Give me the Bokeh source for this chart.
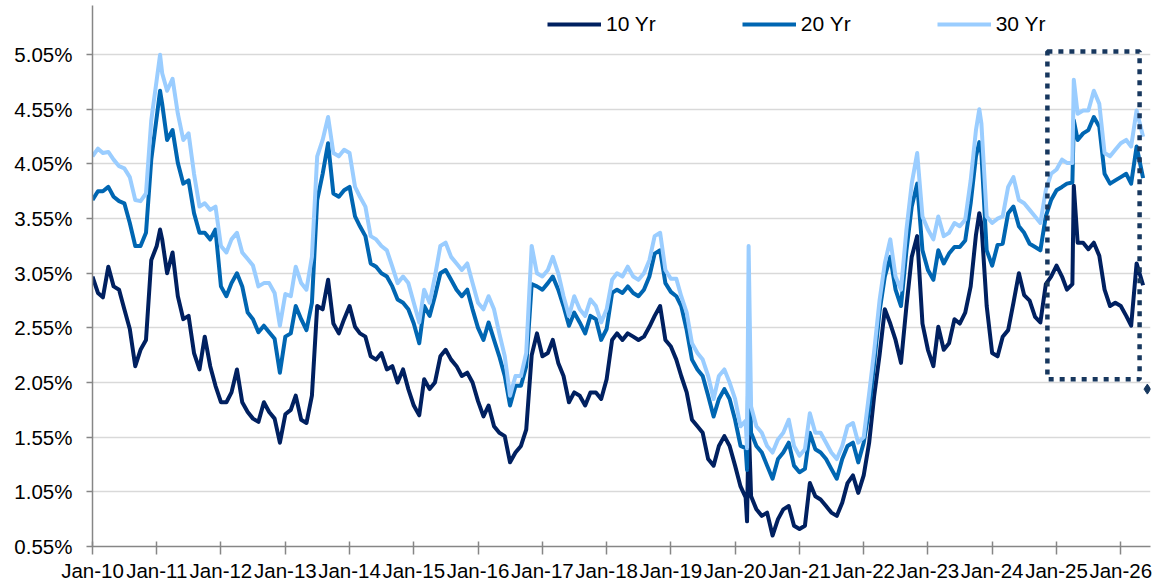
import pandas as pd
from bokeh.plotting import figure
from bokeh.models import (FixedTicker, PrintfTickFormatter, DatetimeTickFormatter, Legend,
                          LegendItem, BoxAnnotation, Range1d, ColumnDataSource)
from bokeh.embed import file_html
from bokeh.resources import INLINE

# ---------------- data (monthly readings, Jan-10 .. Apr-26) ----------------
MONTH_START = "2010-01-01"
MONTH_END = "2026-04-01"

Y10 = [
    3.02, 2.87, 2.83, 3.11, 2.93, 2.90, 2.72, 2.54, 2.20, 2.35, 2.44, 3.17,
    3.30, 3.36, 3.05, 3.24, 2.84, 2.63, 2.66, 2.32, 2.17, 2.47, 2.20, 2.02,
    1.87, 1.87, 1.96, 2.17, 1.87, 1.78, 1.72, 1.69, 1.87, 1.78, 1.72, 1.50,
    1.76, 1.80, 1.93, 1.71, 1.68, 1.93, 2.75, 2.72, 2.99, 2.59, 2.50, 2.63,
    2.75, 2.56, 2.50, 2.47, 2.29, 2.26, 2.32, 2.17, 2.20, 2.05, 2.17, 1.99,
    1.84, 1.75, 2.08, 1.99, 2.05, 2.29, 2.35, 2.26, 2.20, 2.11, 2.14, 2.05,
    1.88, 1.74, 1.84, 1.65, 1.59, 1.56, 1.32, 1.41, 1.47, 1.62, 2.30, 2.50,
    2.29, 2.32, 2.44, 2.23, 2.11, 1.87, 1.96, 1.93, 1.84, 1.96, 1.96, 1.90,
    2.08, 2.44, 2.50, 2.44, 2.50, 2.47, 2.44, 2.47, 2.56, 2.66, 2.75, 2.44,
    2.38, 2.26, 2.11, 1.96, 1.71, 1.65, 1.59, 1.35, 1.29, 1.47, 1.56, 1.47,
    1.29, 1.10, 1.00, 1.01, 0.89, 0.83, 0.86, 0.65, 0.80, 0.89, 0.92, 0.74,
    0.71, 0.74, 1.13, 1.01, 0.98, 0.92, 0.86, 0.83, 0.95, 1.13, 1.20, 1.04,
    1.20, 1.50, 1.92, 2.30, 2.72, 2.59, 2.44, 2.23, 2.75, 3.20, 3.39, 2.59,
    2.35, 2.20, 2.56, 2.35, 2.41, 2.63, 2.59, 2.69, 2.93, 3.40, 3.50, 2.75,
    2.32, 2.29, 2.47, 2.53, 2.78, 3.05, 2.85, 2.80, 2.65, 2.60, 2.95, 3.02,
    3.12, 3.02, 2.90, 2.95, 3.33, 3.33, 3.27, 3.33, 3.21, 2.90, 2.75, 2.78,
    2.75, 2.66, 2.57, 3.14,
]
Y20 = [
    3.72, 3.80, 3.80, 3.84, 3.75, 3.71, 3.69, 3.51, 3.30, 3.30, 3.42, 4.09,
    4.48, 4.60, 4.27, 4.36, 4.06, 3.87, 3.90, 3.60, 3.42, 3.42, 3.36, 3.45,
    2.93, 2.84, 2.96, 3.05, 2.93, 2.69, 2.63, 2.51, 2.57, 2.51, 2.45, 2.14,
    2.47, 2.50, 2.75, 2.63, 2.53, 2.78, 3.72, 3.96, 4.24, 3.78, 3.75, 3.81,
    3.84, 3.57, 3.48, 3.39, 3.14, 3.11, 3.05, 3.02, 2.93, 2.81, 2.78, 2.72,
    2.59, 2.41, 2.75, 2.66, 2.84, 3.05, 3.08, 2.99, 2.90, 2.84, 2.90, 2.72,
    2.55, 2.44, 2.60, 2.44, 2.29, 2.11, 1.84, 2.02, 2.02, 2.20, 2.95, 2.93,
    2.90, 2.96, 3.02, 2.90, 2.75, 2.57, 2.69, 2.60, 2.50, 2.66, 2.63, 2.44,
    2.54, 2.87, 2.90, 2.87, 2.93, 2.87, 2.84, 2.90, 3.02, 3.23, 3.26, 2.96,
    2.88, 2.84, 2.75, 2.53, 2.26, 2.17, 2.11, 1.93, 1.74, 1.90, 1.99, 1.90,
    1.71, 1.47, 1.45, 1.59, 1.47, 1.41, 1.29, 1.17, 1.35, 1.41, 1.50, 1.29,
    1.23, 1.26, 1.59, 1.44, 1.41, 1.35, 1.26, 1.17, 1.35, 1.47, 1.50, 1.32,
    1.50, 1.80, 2.22, 2.70, 3.02, 3.20, 2.90, 2.75, 3.26, 3.66, 3.87, 3.26,
    3.08, 2.99, 3.26, 3.14, 3.23, 3.29, 3.29, 3.35, 3.69, 4.12, 4.15, 3.26,
    3.12, 3.31, 3.32, 3.60, 3.66, 3.48, 3.42, 3.32, 3.29, 3.26, 3.57, 3.72,
    3.81, 3.84, 3.87, 3.88, 4.27, 4.33, 4.36, 4.48, 4.39, 3.96, 3.87, 3.90,
    3.93, 3.96, 3.87, 4.21,
]
Y30 = [
    4.12, 4.19, 4.15, 4.16, 4.09, 4.03, 4.01, 3.93, 3.72, 3.71, 3.78, 4.45,
    4.82, 4.88, 4.72, 4.83, 4.51, 4.27, 4.33, 3.96, 3.66, 3.69, 3.63, 3.66,
    3.30, 3.24, 3.36, 3.42, 3.24, 3.18, 3.12, 2.93, 2.96, 2.96, 2.87, 2.57,
    2.86, 2.84, 3.11, 2.96, 2.90, 3.20, 4.12, 4.27, 4.48, 4.15, 4.12, 4.18,
    4.15, 3.84, 3.75, 3.66, 3.39, 3.36, 3.30, 3.26, 3.11, 2.96, 3.02, 2.96,
    2.78, 2.60, 2.90, 2.78, 3.02, 3.30, 3.33, 3.20, 3.14, 3.08, 3.14, 2.96,
    2.78, 2.72, 2.84, 2.72, 2.50, 2.29, 1.93, 2.11, 2.11, 2.32, 3.30, 3.05,
    3.02, 3.08, 3.20, 3.05, 2.84, 2.66, 2.84, 2.72, 2.66, 2.81, 2.75, 2.60,
    2.72, 2.99, 3.05, 3.02, 3.11, 3.02, 2.99, 3.05, 3.17, 3.39, 3.42, 3.08,
    3.00, 3.00, 2.84, 2.69, 2.41, 2.32, 2.26, 2.11, 1.90, 2.11, 2.17, 2.05,
    1.90, 1.65, 1.70, 1.83, 1.65, 1.59, 1.47, 1.41, 1.53, 1.59, 1.71, 1.47,
    1.38, 1.44, 1.77, 1.59, 1.59, 1.50, 1.41, 1.35, 1.47, 1.65, 1.68, 1.50,
    1.55, 1.95, 2.33, 2.80, 3.14, 3.36, 3.02, 2.90, 3.45, 3.87, 4.15, 3.57,
    3.45, 3.36, 3.57, 3.39, 3.42, 3.51, 3.48, 3.54, 3.90, 4.36, 4.42, 3.57,
    3.51, 3.55, 3.57, 3.84, 3.93, 3.72, 3.69, 3.63, 3.57, 3.51, 3.81, 3.96,
    4.00, 4.09, 4.06, 4.06, 4.51, 4.54, 4.54, 4.72, 4.60, 4.15, 4.12, 4.18,
    4.24, 4.27, 4.21, 4.54,
]

# extra daily readings (spikes and last observation)
EXTRA_DATES = ["2011-01-20", "2020-03-09", "2020-03-18", "2023-10-20", "2025-04-09", "2026-05-08"]
EXTRA_10 = [3.45, 0.78, 1.70, 3.60, 3.85, 2.94]
EXTRA_20 = [4.72, 1.25, 2.40, 4.25, 4.45, 3.92]
EXTRA_30 = [5.05, 1.45, 3.30, 4.55, 4.82, 4.30]

SERIES_NAMES = ["10 Yr", "20 Yr", "30 Yr"]
SERIES_COLORS = ["#002060", "#0066B2", "#9ACDFF"]

TICK_YEARS = list(range(2010, 2027))
Y_TICKS = [0.55, 1.05, 1.55, 2.05, 2.55, 3.05, 3.55, 4.05, 4.55, 5.05]
Y_MIN, Y_MAX = 0.55, 5.50
X_START, X_END = "2010-01-01", "2026-06-19"

# highlight box (Nov-24 .. Apr-26, 2.08% .. 5.08%)
BOX_LEFT, BOX_RIGHT = "2024-11-10", "2026-04-18"
BOX_BOTTOM, BOX_TOP = 2.08, 5.08
HANDLE_DATE, HANDLE_Y = "2026-06-01", 1.99

FONT = "Liberation Sans"


def ms(d):
    return pd.Timestamp(d).value / 1e6


months = pd.date_range(MONTH_START, MONTH_END, freq="MS")
df = pd.DataFrame({
    "date": list(months) + [pd.Timestamp(d) for d in EXTRA_DATES],
    "y10": Y10 + EXTRA_10,
    "y20": Y20 + EXTRA_20,
    "y30": Y30 + EXTRA_30,
}).sort_values("date").reset_index(drop=True)
src = ColumnDataSource(df)

p = figure(width=1152, height=584, x_axis_type="datetime",
           output_backend="svg", toolbar_location=None,
           x_range=Range1d(ms(X_START), ms(X_END)), y_range=Range1d(Y_MIN, Y_MAX),
           min_border_left=92, min_border_right=2, min_border_top=5, min_border_bottom=37)
p.outline_line_color = None
p.background_fill_color = "white"
p.border_fill_color = "white"

renderers = []
for col, color in zip(["y10", "y20", "y30"], SERIES_COLORS):
    r = p.line("date", col, source=src, line_color=color, line_width=4, line_join="round")
    renderers.append(r)

box = BoxAnnotation(left=ms(BOX_LEFT), right=ms(BOX_RIGHT), bottom=BOX_BOTTOM, top=BOX_TOP,
                    fill_color=None, fill_alpha=0, line_color="#17375E", line_alpha=1.0,
                    line_width=4.5, line_dash="5 6")
p.add_layout(box)
p.scatter(x=[ms(HANDLE_DATE)], y=[HANDLE_Y], marker="diamond", size=10,
          fill_color="#17375E", line_color="#17375E")

# axes
p.xaxis.ticker = FixedTicker(ticks=[ms(f"{y}-01-01") for y in TICK_YEARS])
fmt = "%b-%y"
p.xaxis.formatter = DatetimeTickFormatter(years=fmt, months=fmt, days=fmt, hours=fmt,
                                          minutes=fmt, seconds=fmt, milliseconds=fmt,
                                          microseconds=fmt, hourmin=fmt, minsec=fmt)
p.yaxis.ticker = FixedTicker(ticks=Y_TICKS)
p.yaxis.formatter = PrintfTickFormatter(format="%.2f%%")

for ax in (p.xaxis, p.yaxis):
    ax.axis_line_color = "#868686"
    ax.axis_line_width = 1.5
    ax.major_tick_line_color = "#868686"
    ax.major_tick_line_width = 1.5
    ax.minor_tick_line_color = None
    ax.major_label_text_font = FONT
    ax.major_label_text_font_size = "20.5px"
    ax.major_label_text_color = "#000000"

p.xaxis.major_tick_in = 5
p.xaxis.major_tick_out = 8
p.xaxis.major_label_standoff = 4
p.yaxis.major_tick_in = 0
p.yaxis.major_tick_out = 6
p.yaxis.major_label_standoff = 14

p.xgrid.grid_line_color = None
p.ygrid.grid_line_color = "#D9D9D9"
p.ygrid.grid_line_width = 1.5

legend = Legend(items=[LegendItem(label=n, renderers=[r]) for n, r in zip(SERIES_NAMES, renderers)],
                orientation="horizontal", location=(455, 510),
                glyph_width=54, glyph_height=20, label_standoff=5, spacing=86,
                padding=0, margin=0, border_line_alpha=0, background_fill_alpha=0,
                label_text_font=FONT, label_text_font_size="21px", label_text_color="#000000")
p.add_layout(legend)

open("out.html", "w").write(file_html(p, INLINE))
